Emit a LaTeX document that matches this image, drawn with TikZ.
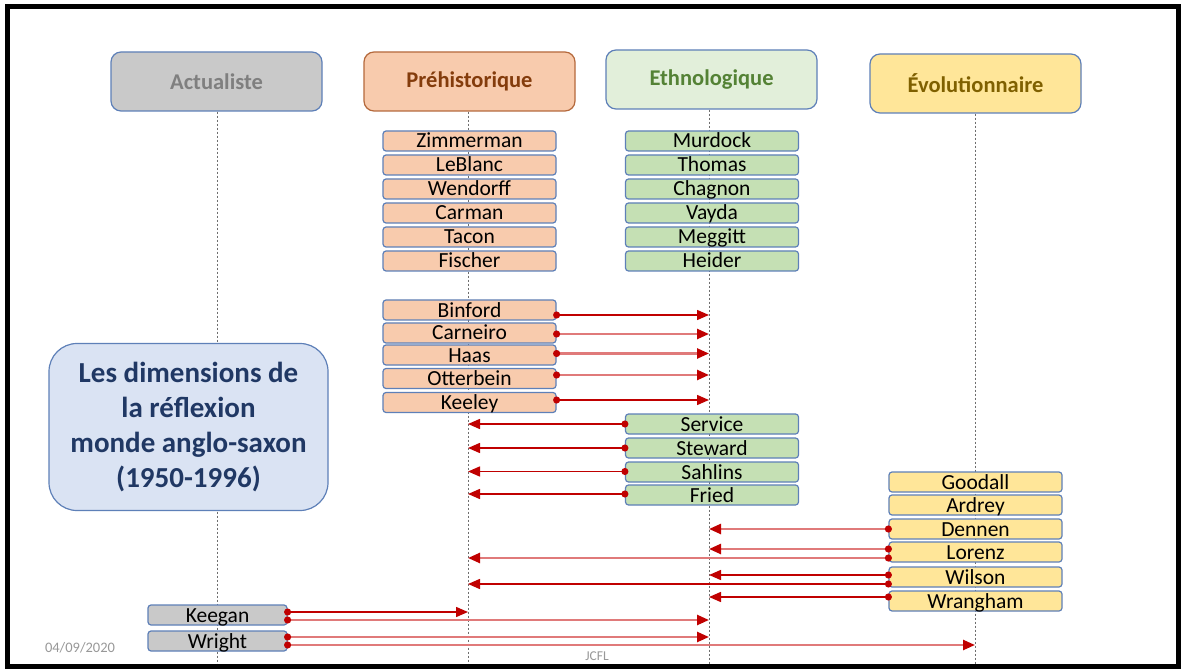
\documentclass[tikz,border=0pt]{standalone}
\usepackage{fontspec}
\setmainfont{Carlito}
\usetikzlibrary{arrows.meta,calc}
\definecolor{bordblue}{HTML}{5E80B8}
\definecolor{prefill}{HTML}{F8CBAD}
\definecolor{pretext}{HTML}{843C0C}
\definecolor{preborder}{HTML}{B5693C}
\definecolor{ethhfill}{HTML}{E2EFDA}
\definecolor{ethfill}{HTML}{C5E0B4}
\definecolor{ethtext}{HTML}{548235}
\definecolor{evofill}{HTML}{FFE699}
\definecolor{evotext}{HTML}{7F6000}
\definecolor{actfill}{HTML}{C9C9C9}
\definecolor{acttext}{HTML}{7F7F7F}
\definecolor{bigfill}{HTML}{DAE3F3}
\definecolor{bigtext}{HTML}{203864}
\definecolor{arred}{HTML}{C00000}
\definecolor{arpink}{HTML}{E07A7A}
\definecolor{lifegray}{HTML}{6E6E6E}
\newcommand{\linkto}[4]{%
  \path ($(#2)+(0,#3)$) coordinate (tmpS);
  \draw[#1] (tmpS) -- (tmpS -| #4);}
\begin{document}
\begin{tikzpicture}[x=1pt,y=-1pt,
  hdr/.style={draw=bordblue, line width=1.2pt, rounded corners=10pt,
    minimum width=211pt, minimum height=59pt, inner sep=0pt,
    font=\fontsize{22.5}{25}\selectfont\bfseries},
  namebox/.style={draw=bordblue, line width=1.2pt, rounded corners=3pt,
    minimum width=173pt, text height=14pt, text depth=0pt,
    inner xsep=0pt, inner ysep=3pt, font=\fontsize{21.5}{23}\selectfont},
  pre/.style={namebox, fill=prefill},
  eth/.style={namebox, fill=ethfill},
  evo/.style={namebox, fill=evofill},
  act/.style={namebox, fill=actfill, minimum width=139pt},
  life/.style={draw=lifegray, line width=0.8pt, dash pattern=on 2pt off 2pt},
  arrdark/.style={draw=arred, line width=1.5pt,
    {Circle[length=7pt,color=arred]}-{Triangle[length=12pt,width=10pt,color=arred]},
    shorten <=-3.5pt},
  arrpink/.style={draw=arpink, line width=2.4pt,
    {Circle[length=7pt,color=arred]}-{Triangle[length=12pt,width=10pt,color=arred]},
    shorten <=-3.5pt},
  foot/.style={text=acttext!80, inner sep=0pt}
]
\useasboundingbox (0,0) rectangle (1187,671);
\fill[white] (0,0) rectangle (1187,671);

% lifeline anchors
\coordinate (lA) at (217,665);
\coordinate (lP) at (468,665);
\coordinate (lE) at (709,665);
\coordinate (lV) at (975,665);

% headers
\node[hdr, fill=actfill, text=acttext] (hA) at (216.5,81.5) {Actualiste};
\node[hdr, fill=prefill, text=pretext, draw=preborder] (hP) at (469.5,81.5) {Préhistorique};
\node[hdr, fill=ethhfill, text=ethtext] (hE) at (711.5,79.5) {Ethnologique};
\node[hdr, fill=evofill, text=evotext] (hV) at (975.5,83.5) {Évolutionnaire};

% lifelines
\draw[life] (lA |- hA.south) -- (lA);
\draw[life] (lP |- hP.south) -- (lP);
\draw[life] (lE |- hE.south) -- (lE);
\draw[life] (lV |- hV.south) -- (lV);

% big box
\node[draw=bordblue, line width=1.2pt, fill=bigfill, rounded corners=28pt,
  minimum width=279pt, minimum height=167pt, align=center, text=bigtext,
  font=\fontsize{29}{35}\selectfont\bfseries] (big) at (188.5,427)
  {Les dimensions de\\la réflexion\\monde anglo-saxon\\(1950-1996)};

% Préhistorique names
\node[pre] (zim) at (469.5,141) {Zimmerman};
\node[pre] (leb) at (469.5,165) {LeBlanc};
\node[pre] (wen) at (469.5,189) {Wendorff};
\node[pre] (car) at (469.5,213) {Carman};
\node[pre] (tac) at (469.5,237) {Tacon};
\node[pre] (fis) at (469.5,261) {Fischer};
\node[pre] (bin) at (469.5,310) {Binford};
\node[pre] (crn) at (469.5,333) {Carneiro};
\node[pre] (haa) at (469.5,355) {Haas};
\node[pre] (ott) at (469.5,378.5) {Otterbein};
\node[pre] (kee) at (469.5,402.5) {Keeley};

% Ethnologique names
\node[eth] (mur) at (712,141) {Murdock};
\node[eth] (tho) at (712,165) {Thomas};
\node[eth] (cha) at (712,189) {Chagnon};
\node[eth] (vay) at (712,213) {Vayda};
\node[eth] (meg) at (712,237) {Meggitt};
\node[eth] (hei) at (712,261) {Heider};
\node[eth] (ser) at (712,424) {Service};
\node[eth] (ste) at (712,448) {Steward};
\node[eth] (sah) at (712,472) {Sahlins};
\node[eth] (fri) at (712,495) {Fried};

% Evolutionnaire names
\node[evo] (goo) at (975.5,482) {Goodall};
\node[evo] (ard) at (975.5,505) {Ardrey};
\node[evo] (den) at (975.5,529) {Dennen};
\node[evo] (lor) at (975.5,552) {Lorenz};
\node[evo] (wil) at (975.5,577) {Wilson};
\node[evo] (wra) at (975.5,601) {Wrangham};

% Actualiste names
\node[act] (keg) at (217.5,615) {Keegan};
\node[act] (wri) at (217.5,641) {Wright};

% arrows Préhistorique -> Ethnologique
\linkto{arrdark}{bin.east}{5}{lE}
\linkto{arrpink}{crn.east}{1}{lE}
\linkto{arrpink}{haa.east}{-1.5}{lE}
\linkto{arrpink}{ott.east}{-3.5}{lE}
\linkto{arrdark}{kee.east}{-2.5}{lE}

% arrows Ethnologique -> Préhistorique
\linkto{arrdark}{ser.west}{0}{lP}
\linkto{arrdark}{ste.west}{0}{lP}
\linkto{arrdark}{sah.west}{-0.5}{lP}
\linkto{arrdark}{fri.west}{-1}{lP}

% arrows Evolutionnaire -> others
\linkto{arrpink}{den.west}{0}{lE}
\linkto{arrpink}{lor.west}{-3}{lE}
\linkto{arrpink}{lor.west}{6}{lP}
\linkto{arrdark}{wil.west}{-2}{lE}
\linkto{arrdark}{wil.west}{7}{lP}
\linkto{arrdark}{wra.west}{-4}{lE}

% arrows Actualiste -> others
\linkto{arrdark}{keg.east}{-3}{lP}
\linkto{arrpink}{keg.east}{5}{lE}
\linkto{arrpink}{wri.east}{-4}{lE}
\linkto{arrpink}{wri.east}{4}{lV}

% footer
\node[foot, font=\fontsize{14.5}{16}\selectfont] (date) at (80,648) {04/09/2020};
\node[foot, font=\fontsize{13.5}{15}\selectfont] (jcfl) at (597,656) {JCFL};

% frame
\draw[line width=5pt] (7.5,7) rectangle (1178.5,666.5);
\end{tikzpicture}
\end{document}
